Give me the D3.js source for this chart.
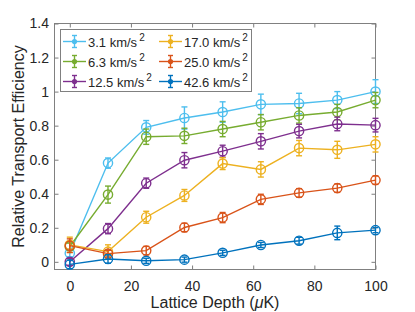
<!DOCTYPE html>
<html>
<head>
<meta charset="utf-8">
<script src="https://cdn.jsdelivr.net/npm/d3@7"></script>
<style>
  body { margin: 0; background: #fff; }
  svg { display: block; font-family: "Liberation Sans", Arial, sans-serif; }
  .tick text { fill: #262626; font-size: 14px; }
</style>
</head>
<body>
<svg id="chart" width="415" height="312"></svg>
<script>
// lattice depth (uK)
const depths = [0, 12.5, 25, 37.5, 50, 62.5, 75, 87.5, 100];

// legend names (km/s^2)
const accels = ['3.1', '6.3', '12.5', '17.0', '25.0', '42.6'];

// relative transport efficiency per acceleration
const eff31 = [0.05, 0.58, 0.79, 0.845, 0.88, 0.925, 0.93, 0.95, 1.0];
const eff63 = [0.09, 0.395, 0.735, 0.74, 0.78, 0.82, 0.86, 0.88, 0.95];
const eff125 = [0.0, 0.195, 0.462, 0.597, 0.65, 0.708, 0.768, 0.81, 0.803];
const eff170 = [0.1, 0.06, 0.262, 0.39, 0.577, 0.543, 0.668, 0.658, 0.69];
const eff250 = [0.095, 0.048, 0.066, 0.202, 0.26, 0.367, 0.405, 0.433, 0.48];
const eff426 = [-0.015, 0.017, 0.006, 0.013, 0.053, 0.099, 0.124, 0.17, 0.186];

// error bars (half-widths)
const err31 = [0.02, 0.03, 0.04, 0.065, 0.06, 0.06, 0.06, 0.05, 0.07];
const err63 = [0.02, 0.05, 0.045, 0.045, 0.045, 0.045, 0.045, 0.045, 0.045];
const err125 = [0.02, 0.03, 0.03, 0.045, 0.035, 0.045, 0.04, 0.04, 0.04];
const err170 = [0.045, 0.04, 0.035, 0.035, 0.035, 0.045, 0.045, 0.05, 0.045];
const err250 = [0.04, 0.02, 0.025, 0.025, 0.03, 0.03, 0.025, 0.025, 0.025];
const err426 = [0.025, 0.025, 0.015, 0.015, 0.015, 0.015, 0.02, 0.04, 0.015];

const xTicks = [0, 20, 40, 60, 80, 100];
const yTicks = [0, 0.2, 0.4, 0.6, 0.8, 1, 1.2, 1.4];

const colors = ['#4DBEEE', '#77AC30', '#7E2F8E', '#EDB120', '#D95319', '#0072BD'];

const effs = [eff31, eff63, eff125, eff170, eff250, eff426];
const errs = [err31, err63, err125, err170, err250, err426];

const series = effs.map((vals, i) => ({
    name: accels[i],
    color: colors[i],
    points: depths.map((d, j) => ({ x: d, y: vals[j], e: errs[i][j] }))
}));

const svg = d3.select('#chart');
const mLeft = 54.5, mRight = 375.5, mTop = 23.5, mBottom = 269.5;

const x = d3.scaleLinear().domain([-5, 100]).range([mLeft, mRight]);
const y = d3.scaleLinear().domain([-0.045, 1.4]).range([mBottom, mTop]);

// axes box
const axisColor = '#262626';
const fmt = d => d3.format('~g')(d);

svg.append('g')
    .attr('transform', `translate(0,${mBottom})`)
    .call(d3.axisBottom(x).tickValues(xTicks).tickSizeInner(-4).tickSizeOuter(0).tickPadding(12).tickFormat(fmt))
    .call(g => g.select('.domain').remove())
    .call(g => g.selectAll('.tick line').attr('stroke', axisColor).attr('stroke-opacity', 0.6));

svg.append('g')
    .attr('transform', `translate(0,${mTop})`)
    .call(d3.axisTop(x).tickValues(xTicks).tickSizeInner(-4).tickSizeOuter(0).tickFormat(''))
    .call(g => g.select('.domain').remove())
    .call(g => g.selectAll('.tick line').attr('stroke', axisColor).attr('stroke-opacity', 0.6));

svg.append('g')
    .attr('transform', `translate(${mLeft},0)`)
    .call(d3.axisLeft(y).tickValues(yTicks).tickSizeInner(-4).tickSizeOuter(0).tickPadding(5.5).tickFormat(fmt))
    .call(g => g.select('.domain').remove())
    .call(g => g.selectAll('.tick line').attr('stroke', axisColor).attr('stroke-opacity', 0.6));

svg.append('g')
    .attr('transform', `translate(${mRight},0)`)
    .call(d3.axisRight(y).tickValues(yTicks).tickSizeInner(-4).tickSizeOuter(0).tickFormat(''))
    .call(g => g.select('.domain').remove())
    .call(g => g.selectAll('.tick line').attr('stroke', axisColor).attr('stroke-opacity', 0.6));

svg.append('rect')
    .attr('x', mLeft).attr('y', mTop)
    .attr('width', mRight - mLeft).attr('height', mBottom - mTop)
    .attr('fill', 'none').attr('stroke', '#808080').attr('stroke-width', 1);

// axis labels
svg.append('text')
    .attr('x', (mLeft + mRight) / 2).attr('y', 307.5)
    .attr('text-anchor', 'middle').attr('font-size', 16).attr('fill', axisColor)
    .call(t => {
        t.append('tspan').text('Lattice Depth (');
        t.append('tspan').attr('font-style', 'italic').text('\u03BC');
        t.append('tspan').text('K)');
    });

svg.append('text')
    .attr('transform', `translate(23.5,${(mTop + mBottom) / 2}) rotate(-90)`)
    .attr('text-anchor', 'middle').attr('font-size', 16).attr('fill', axisColor)
    .text('Relative Transport Efficiency');

// data
const line = d3.line().x(d => x(d.x)).y(d => y(d.y));
const capW = 3;

series.forEach(s => {
    const g = svg.append('g');
    g.append('path')
        .datum(s.points)
        .attr('d', line)
        .attr('fill', 'none').attr('stroke', s.color).attr('stroke-width', 1.4);

    const pts = g.selectAll('.pt').data(s.points).enter().append('g');
    pts.append('line')
        .attr('x1', d => x(d.x)).attr('x2', d => x(d.x))
        .attr('y1', d => y(d.y - d.e)).attr('y2', d => y(d.y + d.e))
        .attr('stroke', s.color).attr('stroke-width', 1.4);
    pts.append('line')
        .attr('x1', d => x(d.x) - capW).attr('x2', d => x(d.x) + capW)
        .attr('y1', d => y(d.y + d.e)).attr('y2', d => y(d.y + d.e))
        .attr('stroke', s.color).attr('stroke-width', 1.4);
    pts.append('line')
        .attr('x1', d => x(d.x) - capW).attr('x2', d => x(d.x) + capW)
        .attr('y1', d => y(d.y - d.e)).attr('y2', d => y(d.y - d.e))
        .attr('stroke', s.color).attr('stroke-width', 1.4);
    pts.append('circle')
        .attr('cx', d => x(d.x)).attr('cy', d => y(d.y))
        .attr('r', 4.6)
        .attr('fill', 'none').attr('stroke', s.color).attr('stroke-width', 1.4);
});

// legend
const lg = svg.append('g');
lg.append('rect')
    .attr('x', 60.5).attr('y', 29.5).attr('width', 191).attr('height', 62)
    .attr('fill', '#fff').attr('stroke', '#808080').attr('stroke-width', 1);

series.forEach((s, i) => {
    const col = Math.floor(i / 3), row = i % 3;
    const x0 = col === 0 ? 63 : 159;
    const yc = 41.5 + row * 20;
    const cx = x0 + 11.5;
    const item = lg.append('g');
    item.append('line').attr('x1', x0).attr('x2', x0 + 23).attr('y1', yc).attr('y2', yc)
        .attr('stroke', s.color).attr('stroke-width', 1.4);
    item.append('line').attr('x1', cx).attr('x2', cx).attr('y1', yc - 6).attr('y2', yc + 6)
        .attr('stroke', s.color).attr('stroke-width', 1.4);
    [yc - 6, yc + 6].forEach(yy => item.append('line')
        .attr('x1', cx - 2.5).attr('x2', cx + 2.5).attr('y1', yy).attr('y2', yy)
        .attr('stroke', s.color).attr('stroke-width', 1.4));
    item.append('circle').attr('cx', cx).attr('cy', yc).attr('r', 2.6).attr('fill', s.color);

    const t = item.append('text')
        .attr('x', x0 + 25).attr('y', yc + 5)
        .attr('font-size', 13).attr('fill', axisColor);
    t.append('tspan').text(`${s.name} km/s`);
    t.append('tspan').attr('dx', 2).attr('dy', -6).attr('font-size', 10).text('2');
});
</script>
</body>
</html>
